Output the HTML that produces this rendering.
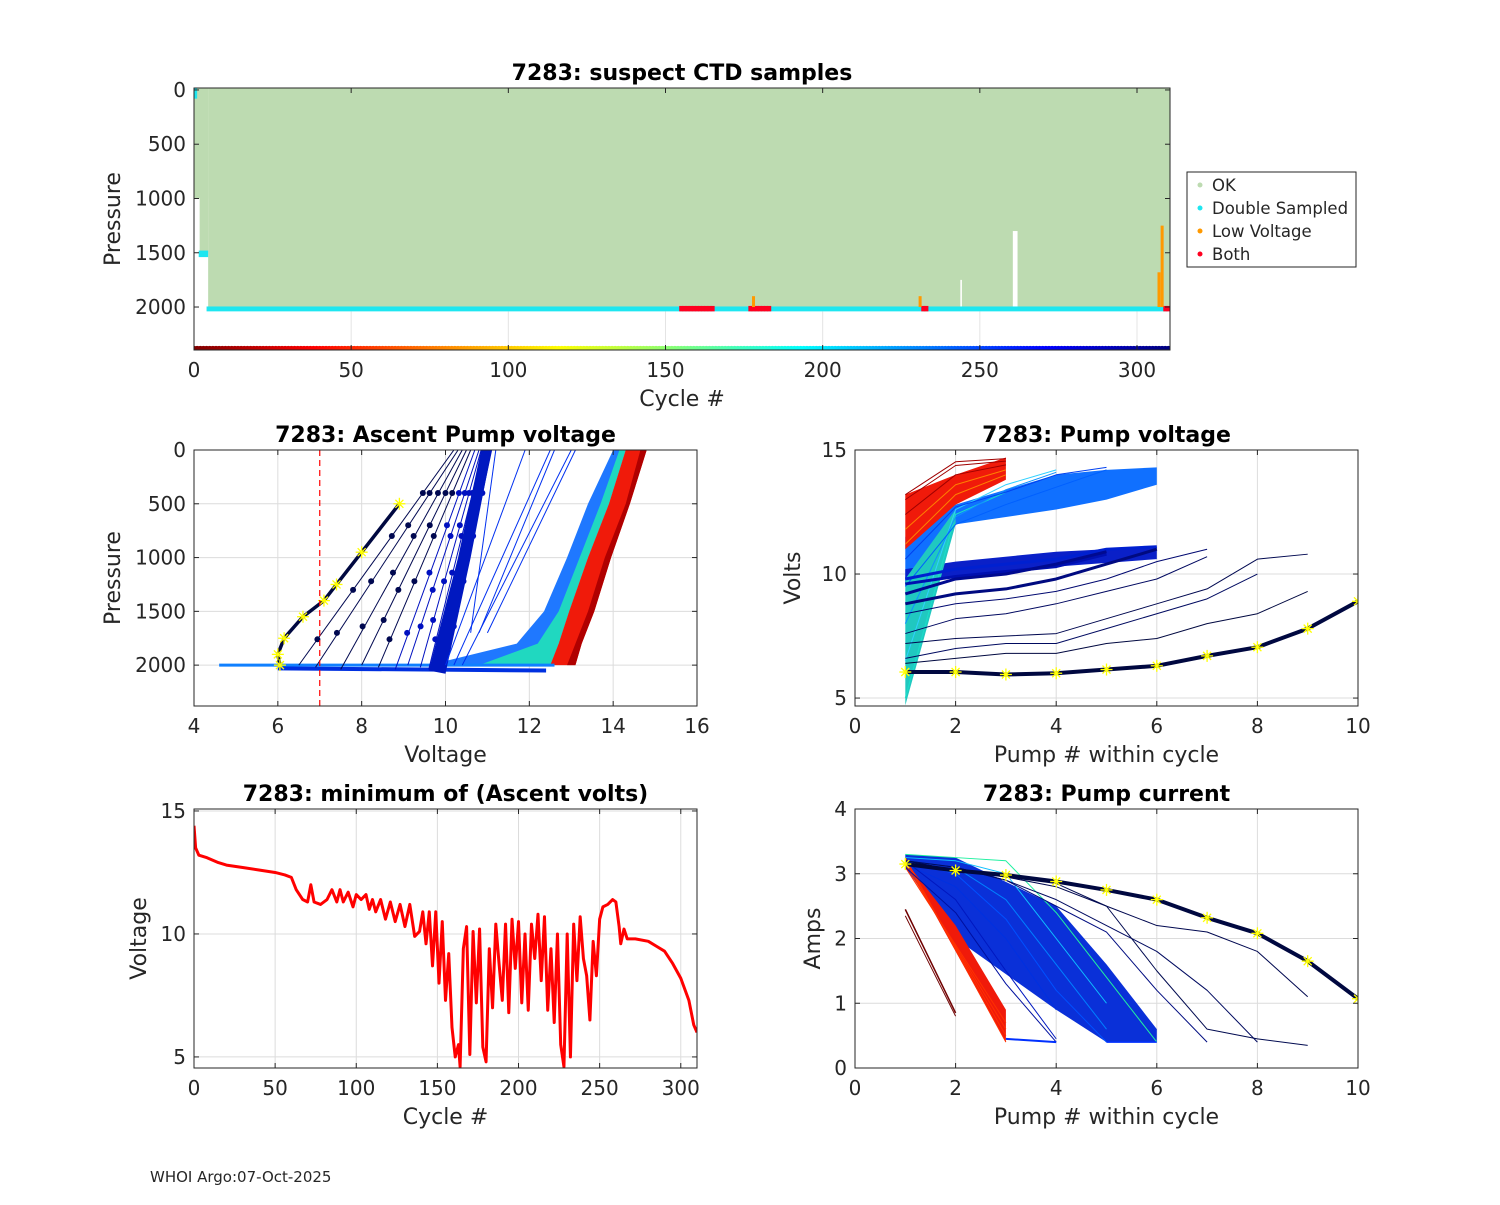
<!DOCTYPE html>
<html><head><meta charset="utf-8"><style>
body{margin:0;background:#fff;}
svg text{font-family:"DejaVu Sans","Liberation Sans",sans-serif;fill:#262626;}
</style></head><body>
<svg id="fig" width="1500" height="1200" viewBox="0 0 1500 1200" xmlns="http://www.w3.org/2000/svg">
<rect width="1500" height="1200" fill="#fff"/>
<text x="150" y="1182" font-size="15">WHOI Argo:07-Oct-2025</text>
</svg>
<script>
// ---------- DATA ----------
const minVoltCycles=[0,1,3,8,15,20,30,40,50,56,60,63,67,70,72,74,78,82,85,88,90,92,95,98,100,103,106,108,110,112,115,118,121,124,127,130,133,136,139,141,143,145,147,149,151,153,155,157,159,161,163,164,166,168,170,172,174,176,178,180,182,184,186,188,190,192,194,196,198,200,202,204,206,208,210,212,214,216,218,220,222,224,226,228,230,232,234,236,238,240,242,244,246,248,250,252,255,258,260,262,263,265,267,272,280,285,290,295,300,305,308,310];
const minVoltValues=[14.4,13.5,13.2,13.1,12.9,12.8,12.7,12.6,12.5,12.4,12.3,11.8,11.4,11.3,12.0,11.3,11.2,11.4,11.8,11.3,11.8,11.3,11.7,11.1,11.6,11.4,11.6,11.0,11.4,10.9,11.4,10.6,11.3,10.5,11.2,10.3,11.2,9.9,10.1,10.9,9.6,10.9,8.7,10.9,8.0,10.5,7.3,9.2,6.2,5.0,5.5,4.6,9.4,10.3,5.1,10.1,7.2,10.2,5.4,4.8,9.4,7.0,10.4,8.8,7.3,10.4,6.8,10.6,8.6,10.5,7.2,10.0,6.9,10.4,9.0,10.8,8.1,10.7,6.9,9.4,6.4,10.0,5.5,4.6,10.0,5.0,10.4,8.1,10.7,9.0,8.3,6.5,9.7,8.3,10.6,11.1,11.2,11.4,11.3,10.3,9.6,10.2,9.8,9.8,9.7,9.5,9.3,8.8,8.2,7.3,6.3,6.0];

const redCycles=[155,156,157,158,159,160,161,162,163,164,165,177,178,179,180,181,182,183,232,233,309,310];
const orangeSpans=[[178,1900],[231,1900],[308,1250],[307,1680]];
const whiteGaps=[[260.5,262,1300],[243.8,244.3,1750]];

const pressureLevels=[2000,1800,1500,1000,500,0];
const redBundleLeft=[12.5,12.7,12.95,13.4,13.9,14.3];
const redBundleRight=[13.1,13.25,13.55,13.95,14.4,14.8];
const jetBundleLow=[9.6,11.7,12.35,12.9,13.4,14.0];
const jetBundleHigh=[12.5,12.7,12.95,13.4,13.9,14.3];
const darkLinesBottomV=[6.5,6.9,7.5,8.0,8.4,8.8,9.1,9.4,9.6,9.8,10.0];
const darkLinesTopV=[10.2,10.3,10.4,10.5,10.6,10.7,10.8,10.85,10.9,11.0,11.1];
const blueLinesBottomV=[10.0,10.2,10.4,10.6,10.8,11.0];
const blueLinesTopV=[11.9,12.5,13.0,11.2,12.6,13.1];
const deadLineVolts=[6.05,6.0,6.15,6.6,7.1,7.4,8.0,8.9];
const deadLinePress=[2000,1900,1750,1550,1400,1250,950,500];

const pumpNums=[1,2,3,4,5,6,7,8,9,10];
const deadPumpVolts=[6.05,6.05,5.95,6.0,6.15,6.3,6.7,7.05,7.8,8.9];
const deadPumpAmps=[3.15,3.05,2.98,2.88,2.75,2.6,2.32,2.08,1.65,1.07];
const redVoltStart=[11.2,11.8,12.4,13.0,13.2];
const redVoltEnd=[14.0,14.2,14.4,14.55,14.65];
const jetVoltLines=[[5.0,12.4,13.3],[6.5,12.6,13.6,14.2],[8.0,12.3,13.4,14.1],[9.5,12.0,12.8,13.5,14.2],[10.6,12.7,13.3,14.0,14.3],[9.8,10.2,10.4,10.6,11.0,11.1],[9.6,9.9,10.1,10.3,10.8],[9.2,9.8,10.0,10.4,10.9],[8.8,9.2,9.4,9.8,10.4,11.0],[8.4,8.8,9.0,9.3,9.8,10.5,11.0],[7.6,8.2,8.4,8.8,9.3,9.8,10.7],[7.2,7.4,7.5,7.6,8.2,8.8,9.4,10.6,10.8],[6.6,7.0,7.2,7.2,7.8,8.4,9.0,10.0],[6.4,6.6,6.8,6.8,7.2,7.4,8.0,8.4,9.3]];
const jetVoltColors=['#19e0c8','#30d0ff','#1090ff','#0060ff','#0040f0','#0020d0','#0010b0','#000a90','#000a80','#000870','#000860','#000850','#000a60','#000840'];

const redAmpStart=[3.25,3.2,3.15,3.1];
const redAmpEnd=[0.4,0.5,0.6,0.7];
const blueAmpLines=[[3.3,3.25,3.2,2.4,1.4,0.4],[3.25,3.2,3.0,2.0,1.0],[3.2,3.1,2.6,1.6,0.6],[3.2,3.0,2.3,1.2,0.4],[3.15,2.8,2.0,0.9],[3.2,2.6,1.5,0.45],[3.1,2.4,1.3,0.4],[3.2,3.1,2.9,2.5,2.1,1.2,0.4],[3.2,3.1,2.9,2.6,2.2,1.8,1.2,0.4],[3.2,3.05,2.95,2.8,2.5,2.2,2.1,1.8,1.1],[3.2,3.05,2.95,2.85,2.5,1.5,0.6,0.45,0.35]];
const blueAmpColors=['#20f0a0','#10c0ff','#0080ff','#0050ff','#0030e0','#0018c0','#0010a0','#000c80','#000a60','#000850','#000a50'];

// ---------- HELPERS ----------
const NS='http://www.w3.org/2000/svg';
const svg=document.getElementById('fig');
function mk(tag,attrs,parent){const e=document.createElementNS(NS,tag);for(const k in attrs)e.setAttribute(k,attrs[k]);(parent||svg).appendChild(e);return e;}
function jet(t){t=Math.max(0,Math.min(1,t));const r=Math.max(0,Math.min(1,1.5-Math.abs(4*t-3))),g=Math.max(0,Math.min(1,1.5-Math.abs(4*t-2))),b=Math.max(0,Math.min(1,1.5-Math.abs(4*t-1)));return `rgb(${r*255|0},${g*255|0},${b*255|0})`;}
function axes(name,L,T,R,B,xmin,xmax,ymin,ymax,yrev){
  const g=mk('g',{});
  const sx=v=>L+(v-xmin)/(xmax-xmin)*(R-L);
  const sy=yrev?(v=>T+(v-ymin)/(ymax-ymin)*(B-T)):(v=>B-(v-ymin)/(ymax-ymin)*(B-T));
  const clipId='c'+name;const cp=mk('clipPath',{id:clipId},g);mk('rect',{x:L,y:T,width:R-L,height:B-T},cp);
  const gridG=mk('g',{},g);
  const plot=mk('g',{'clip-path':`url(#${clipId})`},g);
  return {g,gridG,plot,sx,sy,L,T,R,B};
}
function frame(a,xt,yt,xl,yl,title,grid){
  const g=a.g;
  if(grid){xt.forEach(v=>mk('line',{x1:a.sx(v),x2:a.sx(v),y1:a.T,y2:a.B,stroke:'#dcdcdc','stroke-width':1},a.gridG));
    yt.forEach(v=>mk('line',{x1:a.L,x2:a.R,y1:a.sy(v),y2:a.sy(v),stroke:'#dcdcdc','stroke-width':1},a.gridG));}
  mk('rect',{x:a.L,y:a.T,width:a.R-a.L,height:a.B-a.T,fill:'none',stroke:'#262626','stroke-width':1},g);
  xt.forEach(v=>{const x=a.sx(v);mk('line',{x1:x,x2:x,y1:a.B,y2:a.B-5,stroke:'#262626'},g);mk('line',{x1:x,x2:x,y1:a.T,y2:a.T+5,stroke:'#262626'},g);
    const t=mk('text',{x:x,y:a.B+27,'text-anchor':'middle','font-size':20},g);t.textContent=v;});
  yt.forEach(v=>{const y=a.sy(v);mk('line',{x1:a.L,x2:a.L+5,y1:y,y2:y,stroke:'#262626'},g);mk('line',{x1:a.R,x2:a.R-5,y1:y,y2:y,stroke:'#262626'},g);
    const t=mk('text',{x:a.L-8,y:y+7,'text-anchor':'end','font-size':20},g);t.textContent=v;});
  let t=mk('text',{x:(a.L+a.R)/2,y:a.B+56,'text-anchor':'middle','font-size':22},g);t.textContent=xl;
  const yx=yl.x;t=mk('text',{x:yx,y:(a.T+a.B)/2,'text-anchor':'middle','font-size':22,transform:`rotate(-90 ${yx} ${(a.T+a.B)/2})`},g);t.textContent=yl.t;
  t=mk('text',{x:(a.L+a.R)/2,y:a.T-8,'text-anchor':'middle','font-size':22,'font-weight':'bold'},g);t.textContent=title;t.style.fill='#000';
}
function pline(a,xs,ys,color,w,name){const p=mk('polyline',{points:xs.map((x,i)=>a.sx(x)+','+a.sy(ys[i])).join(' '),fill:'none',stroke:color,'stroke-width':w,'stroke-linejoin':'round'},a.plot);return p;}
function star(a,x,y,name){const cx=a.sx(x),cy=a.sy(y);const g=mk('g',{stroke:'#ffff00','stroke-width':1.3},a.plot);
  [[-6,0,6,0],[0,-6,0,6],[-4,-4,4,4],[-4,4,4,-4]].forEach(d=>mk('line',{x1:cx+d[0],y1:cy+d[1],x2:cx+d[2],y2:cy+d[3]},g));}
function band(a,xsA,ysA,xsB,ysB,fill,name){const pts=xsA.map((x,i)=>a.sx(x)+','+a.sy(ysA[i])).concat(xsB.map((x,i)=>a.sx(x)+','+a.sy(ysB[i])).reverse());const p=mk('polygon',{points:pts.join(' '),fill:fill},a.plot);return p;}

// ---------- TOP CHART ----------
{const a=axes('suspect-ctd-chart',194,88,1170,350,0,310.5,-18,2396,true);
 frame(a,[0,50,100,150,200,250,300],[0,500,1000,1500,2000],'Cycle #',{x:120,t:'Pressure'},'7283: suspect CTD samples',false);
 [50,100,150,200,250,300].forEach(v=>mk('line',{x1:a.sx(v),x2:a.sx(v),y1:a.sy(2040),y2:a.B,stroke:'#e4e4e4'},a.plot));
 let r=mk('rect',{x:a.sx(4.5),y:a.sy(-18),width:a.sx(310.5)-a.sx(4.5),height:a.sy(2000)-a.sy(-18),fill:'#bddbb1'},a.plot);
 mk('rect',{x:a.sx(0),y:a.sy(-18),width:a.sx(4.5)-a.sx(0),height:a.sy(1000)-a.sy(-18),fill:'#bddbb1'},a.plot);
 mk('rect',{x:a.sx(1.8),y:a.sy(-18),width:a.sx(4.5)-a.sx(1.8),height:a.sy(1500)-a.sy(-18),fill:'#bddbb1'},a.plot);
 whiteGaps.forEach(w=>mk('rect',{x:a.sx(w[0]),y:a.sy(w[2]),width:a.sx(w[1])-a.sx(w[0]),height:a.sy(2000)-a.sy(w[2]),fill:'#fff'},a.plot));
 let ds=mk('rect',{x:a.sx(4),y:a.sy(1995),width:a.sx(310)-a.sx(4),height:a.sy(2040)-a.sy(1995),fill:'#1ee6f0'},a.plot);
 mk('rect',{x:a.sx(1.5),y:a.sy(1480),width:a.sx(4.5)-a.sx(1.5),height:a.sy(1540)-a.sy(1480),fill:'#1ee6f0'},a.plot);
 mk('rect',{x:a.sx(0),y:a.sy(-18),width:a.sx(1)-a.sx(0),height:a.sy(80)-a.sy(-18),fill:'#1ee6f0'},a.plot);
 redCycles.forEach(c=>{const e=mk('rect',{x:a.sx(c)-2,y:a.sy(1990),width:4,height:a.sy(2040)-a.sy(1990),fill:'#ff0020'},a.plot);});
 orangeSpans.forEach(s=>{const e=mk('rect',{x:a.sx(s[0])-1.5,y:a.sy(s[1]),width:3,height:a.sy(2000)-a.sy(s[1]),fill:'#ff9900'},a.plot);});
 for(let c=0;c<=310;c+=1){mk('circle',{cx:a.sx(c),cy:a.sy(2390),r:3.5,fill:jet(1-c/310)},a.plot);}
 const lg=mk('g',{});
 mk('rect',{x:1187,y:172,width:169,height:95,fill:'#fff',stroke:'#262626'},lg);
 [['OK','#bddbb1'],['Double Sampled','#1ee6f0'],['Low Voltage','#ff9900'],['Both','#ff0020']].forEach((d,i)=>{const e=mk('g',{},lg);
   mk('circle',{cx:1200,cy:185+i*23,r:2.5,fill:d[1]},e);const t=mk('text',{x:1212,y:191+i*23,'font-size':16.5},e);t.textContent=d[0];});
}
// ---------- ASCENT PUMP VOLTAGE ----------
{const a=axes('ascent-voltage-chart',194,450,697,706,4,16,0,2380,true);
 frame(a,[4,6,8,10,12,14,16],[0,500,1000,1500,2000],'Voltage',{x:120,t:'Pressure'},'7283: Ascent Pump voltage',true);
 band(a,jetBundleLow,pressureLevels,jetBundleHigh,pressureLevels,'#1f78ff','jet-bundle');
 band(a,[10.8,12.2,12.7,13.2,13.7,14.15],pressureLevels,jetBundleHigh,pressureLevels,'#20d8c0','green-bundle');
 band(a,redBundleLeft,pressureLevels,redBundleRight,pressureLevels,'#f01a0a','red-bundle');
 band(a,[12.9,13.1,13.4,13.8,14.3,14.65],pressureLevels,redBundleRight,pressureLevels,'#b00000','darkred-bundle');
 pline(a,[4.6,12.6],[2000,2000],'#1080ff',3,'bottom-spread');
 pline(a,[6,12.4],[2030,2050],'#0030e0',4,'bottom-spread-2');
 darkLinesBottomV.forEach((v,i)=>{const col=i<5?'#000850':'#0010c0';pline(a,[v,darkLinesTopV[i]],[2000+(i%3)*20,0],col,1,'ascent-line');
   [0.12+0.03*(i%4),0.35+0.04*(i%3),0.6+0.05*(i%2),0.8].forEach(f=>mk('circle',{cx:a.sx(v+(darkLinesTopV[i]-v)*f),cy:a.sy(2000*(1-f)),r:3,fill:col},a.plot));});
 band(a,[9.6,10.3,10.85],[2050,1000,0],[10.0,10.6,11.1],[2080,1000,0],'#0018c0','dense-blue');
 blueLinesBottomV.forEach((v,i)=>pline(a,[v,blueLinesTopV[i]],[i<3?2000:1700,0],'#0030f0',1,'ascent-line-blue'));
 pline(a,deadLineVolts,deadLinePress,'#000840',3.5,'dead-battery-line');
 deadLineVolts.forEach((v,i)=>star(a,v,deadLinePress[i],'yellow-star'));
 const dl=mk('line',{x1:a.sx(7),x2:a.sx(7),y1:a.T,y2:a.B,stroke:'#ff0000','stroke-width':1.2,'stroke-dasharray':'6,4'},a.plot);
}
// ---------- PUMP VOLTAGE ----------
{const a=axes('pump-voltage-chart',855,450,1358,706,0,10,4.68,15,false);
 frame(a,[0,2,4,6,8,10],[5,10,15],'Pump # within cycle',{x:800,t:'Volts'},'7283: Pump voltage',true);
 band(a,[1,2,4,5,6],[9.5,12.0,12.6,13.0,13.6],[1,2,4,5,6],[11.5,12.8,14.0,14.2,14.3],'#1070ff','blue-volt-bundle');
 band(a,[1,2,4,6],[9.6,9.9,10.3,10.6],[1,2,4,6],[10.2,10.5,10.9,11.1],'#0a20c8','dense-dark-volt-bundle');
 band(a,[1,2],[4.7,12.0],[1,2],[9.8,12.6],'#20c8c0','cyan-volt-bundle');
 band(a,[1,2,3],[11.0,12.8,13.8],[1,2,3],[13.2,14.0,14.7],'#f01a0a','red-volt-bundle');
 redVoltStart.forEach((v,i)=>pline(a,[1,2,3],[v,(v+redVoltEnd[i])/2+0.6,redVoltEnd[i]],i<2?'#ff8000':'#a00000',1,'red-volt-line'));
 jetVoltLines.forEach((s,i)=>pline(a,pumpNums.slice(0,s.length),s,jetVoltColors[i],i>4&&i<9?3:1,'pump-volt-line'));
 pline(a,pumpNums,deadPumpVolts,'#000840',4,'dead-battery-volt');
 deadPumpVolts.forEach((v,i)=>star(a,pumpNums[i],v,'yellow-star'));
}
// ---------- MIN VOLTAGE ----------
{const a=axes('min-voltage-chart',194,809,697,1068,0,310,4.55,15.08,false);
 frame(a,[0,50,100,150,200,250,300],[5,10,15],'Cycle #',{x:146,t:'Voltage'},'7283: minimum of (Ascent volts)',true);
 pline(a,minVoltCycles,minVoltValues,'#ff0000',3,'min-voltage-line');
}
// ---------- PUMP CURRENT ----------
{const a=axes('pump-current-chart',855,809,1358,1068,0,10,0,4,false);
 frame(a,[0,2,4,6,8,10],[0,1,2,3,4],'Pump # within cycle',{x:820,t:'Amps'},'7283: Pump current',true);
 band(a,[1,2,4,5,6],[3.1,2.0,0.9,0.4,0.4],[1,2,4,5,6],[3.3,3.25,2.5,1.6,0.6],'#0a30d8','blue-amp-bundle');
 band(a,[1,3],[3.2,0.4],[1,2,3],[3.2,2.2,0.9],'#f01a0a','red-amp-bundle');
 redAmpStart.forEach((v,i)=>pline(a,[1,3],[v,redAmpEnd[i]],'#ff3000',1,'red-amp-line'));
 pline(a,[1,2],[2.45,0.85],'#700000',1.5,'darkred-amp-line');pline(a,[1,2],[2.35,0.8],'#700000',1,'darkred-amp-line');
 blueAmpLines.forEach((s,i)=>pline(a,pumpNums.slice(0,s.length),s,blueAmpColors[i],1,'pump-amp-line'));
 pline(a,[3,4],[0.45,0.4],'#0030ff',2,'pump-amp-line');pline(a,[5,6],[0.4,0.4],'#0030ff',1.5,'pump-amp-line');
 pline(a,pumpNums,deadPumpAmps,'#000840',4,'dead-battery-amps');
 deadPumpAmps.forEach((v,i)=>star(a,pumpNums[i],v,'yellow-star'));
}
</script>
</body></html>
